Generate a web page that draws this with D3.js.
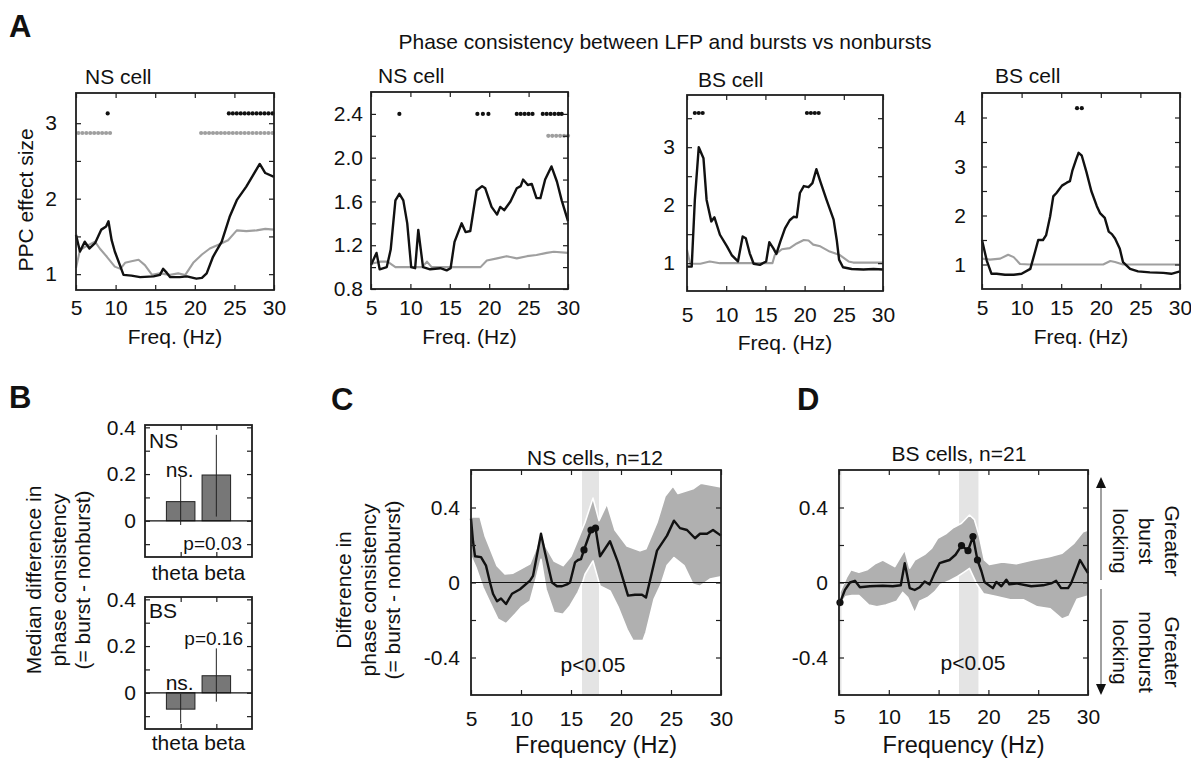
<!DOCTYPE html>
<html>
<head>
<meta charset="utf-8">
<script src="https://cdn.jsdelivr.net/npm/d3@7"></script>
<style>
  body { margin: 0; background: #fff; }
  svg { display: block; font-family: "Liberation Sans", Arial, Helvetica, sans-serif; }
</style>
</head>
<body>
<svg id="fig" width="1191" height="758"></svg>
<script>
// ---------------- Panel A: single-cell PPC effect size spectra ----------------
const freqTicks = [5, 10, 15, 20, 25, 30];

// A1 — NS cell
const a1Burst = [[5.0,1.52],[5.5,1.30],[6.1,1.43],[6.7,1.34],[7.4,1.41],[8.2,1.59],[8.8,1.63],[9.1,1.70],[9.5,1.45],[9.9,1.30],[11.0,0.99],[12.0,0.98],[13.1,0.96],[14.8,0.97],[15.6,0.99],[16.0,1.07],[16.45,1.02],[16.9,0.96],[18.1,0.96],[19.0,0.97],[20.2,0.94],[20.9,0.95],[21.5,1.01],[22.3,1.23],[23.4,1.43],[24.4,1.76],[25.3,1.98],[26.5,2.16],[27.4,2.32],[28.2,2.46],[28.9,2.34],[30.0,2.29]];
const a1Nonburst = [[5.0,1.08],[5.5,1.32],[6.3,1.37],[7.4,1.43],[8.0,1.34],[8.9,1.23],[9.9,1.10],[10.6,1.07],[11.2,1.15],[12.0,1.17],[12.9,1.19],[13.7,1.12],[14.6,0.99],[15.6,1.01],[16.9,0.99],[17.9,1.01],[18.8,0.99],[19.8,1.15],[20.9,1.26],[21.9,1.34],[23.2,1.40],[24.2,1.45],[25.3,1.58],[26.5,1.57],[27.8,1.58],[28.9,1.60],[30.0,1.59]];
const a1SigBurst = [9.0,24.3,24.8,25.3,25.8,26.3,26.8,27.3,27.8,28.3,28.8,29.3,29.8];
const a1SigNonburst = [5.3,5.8,6.3,6.8,7.3,7.8,8.3,8.8,9.3,20.8,21.3,21.8,22.3,22.8,23.3,23.8,24.3,24.8,25.3,25.8,26.3,26.8,27.3,27.8,28.3,28.8,29.3,29.8];

// A2 — NS cell
const a2Burst = [[5.0,1.02],[5.7,1.13],[6.1,0.98],[7.0,1.00],[7.5,1.16],[8.1,1.61],[8.6,1.67],[9.1,1.61],[9.6,1.40],[10.1,1.00],[10.6,0.99],[11.0,1.34],[11.6,1.00],[12.5,0.98],[13.8,0.99],[14.6,0.97],[15.1,0.99],[15.6,1.23],[16.5,1.40],[17.0,1.32],[17.6,1.33],[18.4,1.70],[19.1,1.74],[19.5,1.72],[20.3,1.55],[21.0,1.48],[21.4,1.55],[21.9,1.52],[22.7,1.60],[23.5,1.72],[24.0,1.74],[24.3,1.80],[24.9,1.75],[25.4,1.76],[26.0,1.63],[26.5,1.63],[27.1,1.80],[27.9,1.92],[28.6,1.78],[29.2,1.61],[30.0,1.42]];
const a2Nonburst = [[5.0,1.03],[6.2,1.05],[7.1,1.05],[8.1,1.00],[9.6,1.00],[11.5,1.00],[12.1,1.05],[12.7,1.00],[15.0,1.00],[18.9,1.00],[19.7,1.06],[21.0,1.08],[22.2,1.10],[23.5,1.08],[24.8,1.10],[26.0,1.11],[27.3,1.13],[28.2,1.14],[30.0,1.13]];
const a2SigBurst = [8.6,18.5,19.2,19.9,23.5,24.0,24.5,25.0,25.5,26.8,27.3,27.8,28.3,28.8,29.2];
const a2SigNonburst = [27.5,28.0,28.5,29.0,29.5,30.0];

// A3 — BS cell
const a3Burst = [[5.0,0.94],[5.6,0.94],[6.0,2.09],[6.5,3.00],[7.1,2.81],[7.5,2.09],[8.1,1.72],[8.5,1.79],[9.2,1.49],[10.1,1.29],[10.7,1.14],[11.5,1.03],[12.1,1.46],[12.5,1.43],[13.0,1.17],[13.5,0.99],[14.3,0.97],[15.1,1.03],[15.5,1.36],[16.0,1.26],[16.4,1.16],[16.9,1.37],[17.5,1.60],[18.1,1.74],[18.6,1.80],[19.0,1.79],[19.4,2.21],[19.9,2.33],[20.5,2.31],[21.0,2.38],[21.5,2.62],[22.0,2.41],[22.8,2.09],[23.7,1.75],[24.1,1.40],[24.4,1.06],[24.9,0.93],[26.0,0.90],[27.5,0.89],[28.8,0.90],[30.0,0.89]];
const a3Nonburst = [[5.0,1.23],[5.4,0.99],[6.7,0.99],[7.9,1.03],[9.2,1.00],[12.0,1.00],[15.9,1.00],[16.2,1.14],[17.1,1.24],[18.1,1.26],[19.0,1.34],[19.9,1.40],[20.5,1.39],[21.1,1.32],[22.0,1.29],[23.2,1.20],[24.5,1.14],[25.6,1.03],[26.2,1.01],[30.0,1.01]];
const a3SigBurst = [6.0,6.5,7.0,20.3,20.8,21.3,21.8];

// A4 — BS cell
const a4Burst = [[5.0,1.50],[5.6,1.08],[6.2,0.81],[6.85,0.81],[7.9,0.79],[9.0,0.79],[10.0,0.81],[11.1,0.91],[11.7,1.26],[12.1,1.50],[12.7,1.50],[13.1,1.60],[13.6,1.98],[14.0,2.39],[14.4,2.46],[15.1,2.61],[15.7,2.67],[16.1,2.70],[16.4,2.91],[16.9,3.15],[17.2,3.28],[17.6,3.22],[18.2,2.88],[18.8,2.50],[19.5,2.19],[19.9,2.05],[20.5,1.95],[21.0,1.67],[21.4,1.62],[21.8,1.53],[22.4,1.32],[22.8,1.05],[23.7,0.91],[24.7,0.86],[26.2,0.84],[27.9,0.83],[28.9,0.81],[30.0,0.86]];
const a4Nonburst = [[5.0,1.12],[6.0,1.10],[7.3,1.12],[8.3,1.20],[9.0,1.15],[9.8,1.01],[11.0,1.00],[20.3,1.00],[21.2,1.07],[21.8,1.05],[22.8,1.00],[30.0,1.00]];
const a4SigBurst = [17.0,17.6];

// ---------------- Panel B: median burst - nonburst difference ----------------
const bBands = ["theta", "beta"];
const bNSMedian = [0.082, 0.196];
const bNSLow    = [-0.018, 0.018];
const bNSHigh   = [0.189, 0.368];
const bBSMedian = [-0.070, 0.073];
const bBSLow    = [-0.130, -0.038];
const bBSHigh   = [-0.005, 0.190];

// ---------------- Panel C: NS cells, n=12 ----------------
const cMean = [[5.0,0.34],[5.2,0.22],[5.4,0.14],[6.0,0.135],[6.5,0.09],[6.9,0.0],[7.2,-0.06],[7.6,-0.10],[8.0,-0.085],[8.5,-0.115],[9.1,-0.06],[9.9,-0.036],[10.9,0.01],[11.2,0.035],[12.0,0.26],[12.4,0.16],[13.1,0.0],[13.6,-0.02],[14.1,-0.02],[14.6,-0.01],[14.9,0.0],[15.4,0.107],[15.7,0.12],[16.0,0.125],[16.3,0.174],[17.0,0.28],[17.45,0.29],[17.9,0.14],[18.9,0.22],[19.7,0.107],[20.7,-0.07],[21.4,-0.065],[22.1,-0.065],[22.5,-0.08],[23.6,0.17],[24.6,0.25],[25.3,0.33],[25.9,0.29],[26.6,0.28],[27.4,0.236],[27.9,0.26],[28.6,0.26],[29.2,0.28],[30.0,0.25]];
const cUpper = [[5.0,0.35],[5.9,0.35],[6.4,0.25],[7.6,0.09],[8.4,0.045],[9.2,0.05],[9.9,0.07],[10.9,0.10],[11.5,0.18],[12.0,0.275],[12.5,0.19],[13.3,0.115],[14.2,0.09],[15.0,0.14],[15.7,0.23],[16.4,0.32],[17.2,0.45],[17.8,0.33],[18.6,0.42],[19.4,0.28],[20.6,0.195],[21.9,0.17],[22.5,0.18],[23.6,0.32],[24.4,0.46],[25.2,0.515],[25.7,0.475],[27.2,0.50],[28.0,0.53],[30.0,0.51]];
const cLower = [[5.0,0.14],[5.5,0.08],[6.2,-0.027],[6.9,-0.107],[7.7,-0.196],[8.5,-0.22],[9.4,-0.17],[10.0,-0.133],[10.9,-0.10],[11.5,0.018],[12.0,0.124],[12.5,-0.036],[13.3,-0.16],[14.2,-0.17],[14.9,-0.125],[15.7,-0.053],[16.2,0.009],[16.4,0.044],[17.2,0.115],[17.9,-0.018],[18.9,-0.045],[19.7,-0.13],[20.6,-0.25],[21.2,-0.31],[22.2,-0.31],[22.5,-0.265],[23.3,-0.09],[24.0,-0.01],[24.6,0.09],[25.3,0.133],[26.3,0.09],[27.2,-0.01],[27.9,-0.02],[28.9,0.018],[30.0,0.03]];
const cSigPoints = [[16.3,0.174],[17.0,0.28],[17.45,0.29]];
const cSigRanges = [[16.1,17.8]];

// ---------------- Panel D: BS cells, n=21 ----------------
const dMean = [[5.1,-0.107],[5.6,-0.039],[6.1,0.0],[6.6,0.009],[7.1,-0.025],[8.1,-0.02],[9.4,-0.017],[10.4,-0.02],[11.2,-0.015],[11.6,0.103],[12.1,-0.03],[12.6,-0.04],[13.1,-0.025],[13.6,0.005],[14.1,-0.01],[14.6,0.05],[15.1,0.103],[15.6,0.112],[16.1,0.12],[16.7,0.148],[17.3,0.197],[17.95,0.17],[18.45,0.245],[18.9,0.12],[19.3,0.06],[19.6,0.003],[20.45,-0.03],[20.8,0.003],[21.3,-0.02],[21.8,0.015],[22.1,-0.01],[22.8,-0.005],[24.3,-0.02],[25.5,-0.015],[26.3,-0.005],[26.8,0.009],[27.3,-0.03],[28.0,-0.03],[28.3,-0.005],[28.7,0.05],[29.2,0.12],[29.7,0.075],[30.0,0.05]];
const dUpper = [[5.1,-0.05],[5.8,0.032],[6.2,0.068],[7.0,0.055],[7.8,0.068],[8.6,0.10],[9.4,0.12],[10.6,0.085],[11.6,0.174],[12.1,0.077],[12.6,0.12],[13.6,0.15],[14.3,0.183],[14.9,0.236],[15.8,0.263],[16.4,0.29],[17.3,0.316],[18.1,0.36],[18.6,0.335],[19.1,0.245],[19.6,0.12],[20.1,0.096],[21.4,0.11],[22.8,0.10],[24.4,0.12],[26.1,0.138],[27.4,0.156],[28.6,0.21],[29.5,0.27],[30.0,0.28]];
const dLower = [[5.1,-0.12],[5.7,-0.075],[6.3,-0.07],[7.0,-0.07],[8.0,-0.12],[8.8,-0.13],[9.7,-0.12],[10.8,-0.10],[11.4,-0.053],[11.9,-0.08],[12.6,-0.163],[13.1,-0.10],[13.9,-0.08],[14.6,-0.05],[15.2,-0.01],[16.1,0.01],[16.9,0.032],[17.6,0.057],[18.1,0.075],[18.8,-0.005],[19.5,-0.06],[20.8,-0.075],[22.2,-0.092],[23.5,-0.092],[24.9,-0.13],[26.2,-0.14],[27.4,-0.195],[28.1,-0.18],[28.9,-0.09],[30.0,-0.072]];
const dSigPoints = [[5.1,-0.107],[17.3,0.197],[17.95,0.17],[18.45,0.245],[18.9,0.12]];
const dSigRanges = [[5.0,5.25],[17.05,19.0]];

const diffTicks = [-0.4,-0.2,0,0.2,0.4];
const diffLabels = [-0.4,0,0.4];

// ---------------- drawing helpers ----------------
const svg = d3.select("#fig");
const INK = "#1e1e1e";
const FS = 21;
const TICK = 5;
const GRAY_LINE = "#9f9f9f";

function text(parent, str, x, y, opts = {}) {
  const t = parent.append("text")
    .attr("x", x).attr("y", y)
    .attr("font-size", opts.size || FS)
    .attr("fill", opts.fill || "#111")
    .attr("text-anchor", opts.anchor || "start")
    .text(str);
  if (opts.weight) t.attr("font-weight", opts.weight);
  return t;
}

// multi-line label rotated around (cx, cy); lines stacked with given spacing
function rotatedLabel(parent, lines, cx, cy, angle, spacing) {
  const g = parent.append("g").attr("transform", `translate(${cx},${cy}) rotate(${angle})`);
  const n = lines.length;
  lines.forEach((s, i) => {
    g.append("text")
      .attr("x", 0)
      .attr("y", (i - (n - 1) / 2) * spacing)
      .attr("text-anchor", "middle")
      .attr("dominant-baseline", "central")
      .attr("font-size", FS)
      .attr("fill", "#111")
      .text(s);
  });
}

function addAxes(g, x, y, o) {
  const [xa, xb] = x.range();
  const [yb, ya] = y.range();
  const blank = () => "";
  const yFmt = o.yFmt || (d => String(d));
  const yLab = d => o.yLabels.some(v => Math.abs(v - d) < 1e-9) ? yFmt(d) : "";

  g.append("g").attr("transform", `translate(0,${yb})`)
    .call(d3.axisBottom(x).tickValues(o.xTicks).tickSize(-TICK)
      .tickPadding(o.xPad || 10).tickFormat(o.xLabels === false ? blank : (d => String(d))));
  g.append("g").attr("transform", `translate(0,${ya})`)
    .call(d3.axisTop(x).tickValues(o.xTicks).tickSize(-TICK).tickFormat(blank));
  g.append("g").attr("transform", `translate(${xa},0)`)
    .call(d3.axisLeft(y).tickValues(o.yTicks).tickSize(-TICK)
      .tickPadding(o.yPad || 10).tickFormat(yLab));
  g.append("g").attr("transform", `translate(${xb},0)`)
    .call(d3.axisRight(y).tickValues(o.yTicks).tickSize(-TICK).tickFormat(blank));

  g.selectAll(".domain").remove();
  g.selectAll(".tick line").attr("stroke", INK).attr("stroke-width", 1.2);
  g.selectAll(".tick text")
    .attr("font-size", FS)
    .attr("font-family", "Liberation Sans, Arial, Helvetica, sans-serif")
    .attr("fill", "#111");

  g.append("rect")
    .attr("x", xa).attr("y", ya)
    .attr("width", xb - xa).attr("height", yb - ya)
    .attr("fill", "none").attr("stroke", INK).attr("stroke-width", 1.8);
}

// ---------------- Panel A ----------------
text(svg, "A", 9, 37, { size: 31, weight: "bold" });
text(svg, "Phase consistency between LFP and bursts vs nonbursts", 665, 49, { anchor: "middle" });
rotatedLabel(svg, ["PPC effect size"], 25, 200, -90, 0);

const aPanels = [
  { title: "NS cell", box: [76, 274, 93, 290], yDom: [0.79, 3.4],
    yTicks: [1, 1.5, 2, 2.5, 3], yLabels: [1, 2, 3], yPad: 19, xPad: 10, xlabY: 344,
    burst: a1Burst, nonburst: a1Nonburst, sigB: a1SigBurst, sigBY: 3.13, sigN: a1SigNonburst, sigNY: 2.87, titleXY: [85, 84] },
  { title: "NS cell", box: [371, 568, 92, 289], yDom: [0.8, 2.6],
    yTicks: [0.8, 1.0, 1.2, 1.4, 1.6, 1.8, 2.0, 2.2, 2.4], yLabels: [0.8, 1.2, 1.6, 2.0, 2.4], yFmt: d3.format(".1f"),
    yPad: 8, xPad: 11, xlabY: 344,
    burst: a2Burst, nonburst: a2Nonburst, sigB: a2SigBurst, sigBY: 2.4, sigN: a2SigNonburst, sigNY: 2.2, titleXY: [378, 83] },
  { title: "BS cell", box: [687, 883, 95, 291], yDom: [0.52, 3.9],
    yTicks: [1, 1.5, 2, 2.5, 3, 3.5], yLabels: [1, 2, 3], yPad: 12, xPad: 16, xlabY: 350,
    burst: a3Burst, nonburst: a3Nonburst, sigB: a3SigBurst, sigBY: 3.59, sigN: [], sigNY: 0, titleXY: [698, 87] },
  { title: "BS cell", box: [982, 1180, 93, 289], yDom: [0.5, 4.5],
    yTicks: [1, 1.5, 2, 2.5, 3, 3.5, 4], yLabels: [1, 2, 3, 4], yPad: 16, xPad: 11, xlabY: 344,
    burst: a4Burst, nonburst: a4Nonburst, sigB: a4SigBurst, sigBY: 4.19, sigN: [], sigNY: 0, titleXY: [995, 83] }
];

aPanels.forEach(p => {
  const [x0, x1, y0, y1] = p.box;
  const x = d3.scaleLinear().domain([5, 30]).range([x0, x1]);
  const y = d3.scaleLinear().domain(p.yDom).range([y1, y0]);
  const g = svg.append("g");
  const line = d3.line().x(d => x(d[0])).y(d => y(d[1]));

  g.append("path").datum(p.nonburst).attr("d", line)
    .attr("fill", "none").attr("stroke", GRAY_LINE).attr("stroke-width", 2.1).attr("stroke-linejoin", "round");
  g.append("path").datum(p.burst).attr("d", line)
    .attr("fill", "none").attr("stroke", "#111").attr("stroke-width", 2.4).attr("stroke-linejoin", "round");

  g.selectAll(".sigN").data(p.sigN).join("circle")
    .attr("cx", d => x(d)).attr("cy", y(p.sigNY)).attr("r", 2.1).attr("fill", GRAY_LINE);
  g.selectAll(".sigB").data(p.sigB).join("circle")
    .attr("cx", d => x(d)).attr("cy", y(p.sigBY)).attr("r", 2.1).attr("fill", "#111");

  addAxes(g, x, y, { xTicks: freqTicks, yTicks: p.yTicks, yLabels: p.yLabels, yFmt: p.yFmt, yPad: p.yPad, xPad: p.xPad });
  text(svg, p.title, p.titleXY[0], p.titleXY[1]);
  text(svg, "Freq. (Hz)", (x0 + x1) / 2, p.xlabY, { anchor: "middle" });
});

// ---------------- Panel B ----------------
text(svg, "B", 9, 408, { size: 31, weight: "bold" });
rotatedLabel(svg, ["Median difference in", "phase consistency", "(= burst - nonburst)"], 58, 580, -90, 24.5);

const bPanels = [
  { box: [145, 252, 425, 557], med: bNSMedian, lo: bNSLow, hi: bNSHigh, tag: "NS", tagY: 448,
    nsY: 477, pText: "p=0.03", pY: 550, pX: 242, labY: 580 },
  { box: [145, 252, 597, 729], med: bBSMedian, lo: bBSLow, hi: bBSHigh, tag: "BS", tagY: 618,
    nsY: 690, pText: "p=0.16", pY: 645, pX: 243, labY: 750 }
];

bPanels.forEach(p => {
  const [x0, x1, y0, y1] = p.box;
  const x = d3.scaleLinear().domain([0, 3]).range([x0, x1]);
  const y = d3.scaleLinear().domain([-0.155, 0.41]).range([y1, y0]);
  const g = svg.append("g");
  const halfW = 0.4;

  g.selectAll("rect.bar").data(bBands).join("rect").attr("class", "bar")
    .attr("x", (d, i) => x(i + 1 - halfW))
    .attr("width", x(1 + halfW) - x(1 - halfW))
    .attr("y", (d, i) => y(Math.max(0, p.med[i])))
    .attr("height", (d, i) => Math.abs(y(p.med[i]) - y(0)))
    .attr("fill", "#777").attr("stroke", "#222").attr("stroke-width", 1);

  g.append("line").attr("x1", x0).attr("x2", x1).attr("y1", y(0)).attr("y2", y(0))
    .attr("stroke", "#111").attr("stroke-width", 1.3);

  g.selectAll("line.err").data(bBands).join("line").attr("class", "err")
    .attr("x1", (d, i) => x(i + 1)).attr("x2", (d, i) => x(i + 1))
    .attr("y1", (d, i) => y(p.lo[i])).attr("y2", (d, i) => y(p.hi[i]))
    .attr("stroke", "#222").attr("stroke-width", 1);

  addAxes(g, x, y, { xTicks: [1, 2], xLabels: false, yTicks: [-0.1, 0, 0.1, 0.2, 0.3, 0.4], yLabels: [0, 0.2, 0.4], yPad: 9 });

  text(svg, p.tag, 149, p.tagY);
  text(svg, "ns.", x(1) - 1, p.nsY, { anchor: "middle" });
  text(svg, p.pText, p.pX, p.pY, { anchor: "end", size: 19 });
  text(svg, bBands.join(" "), (x0 + x1) / 2, p.labY, { anchor: "middle" });
});

// ---------------- Panels C and D ----------------
function diffPanel(o) {
  const [x0, x1, y0, y1] = o.box;
  const x = d3.scaleLinear().domain([5, 30]).range([x0, x1]);
  const y = d3.scaleLinear().domain([-0.6, 0.6]).range([y1, y0]);
  const g = svg.append("g");
  const line = d3.line().x(d => x(d[0])).y(d => y(d[1]));

  g.selectAll("rect.sig").data(o.sigRanges).join("rect").attr("class", "sig")
    .attr("x", d => x(d[0])).attr("width", d => x(d[1]) - x(d[0]))
    .attr("y", y0).attr("height", y1 - y0).attr("fill", "#e4e4e4");

  g.append("text").attr("x", o.pXY[0]).attr("y", o.pXY[1]).attr("text-anchor", "middle")
    .attr("font-size", FS).attr("fill", "#111").text("p<0.05");

  const band = o.upper.concat(o.lower.slice().reverse());
  g.append("path").datum(band).attr("d", d => line(d) + "Z")
    .attr("fill", "#b0b0b0").attr("stroke", "#fff").attr("stroke-width", 1.6).attr("stroke-linejoin", "round");

  g.append("line").attr("x1", x0).attr("x2", x1).attr("y1", y(0)).attr("y2", y(0))
    .attr("stroke", "#111").attr("stroke-width", 1.1);

  g.append("path").datum(o.mean).attr("d", line)
    .attr("fill", "none").attr("stroke", "#111").attr("stroke-width", 2.4).attr("stroke-linejoin", "round");

  g.selectAll("circle.sigpt").data(o.sigPoints).join("circle").attr("class", "sigpt")
    .attr("cx", d => x(d[0])).attr("cy", d => y(d[1])).attr("r", 3.6).attr("fill", "#111");

  addAxes(g, x, y, { xTicks: freqTicks, yTicks: diffTicks, yLabels: diffLabels, yPad: 11, xPad: o.xPad });

  text(svg, o.title, o.titleXY[0], o.titleXY[1], { anchor: "middle" });
  text(svg, "Frequency (Hz)", (x0 + x1) / 2, 753, { anchor: "middle", size: 23.5 });
  return { x, y };
}

text(svg, "C", 331, 410, { size: 31, weight: "bold" });
diffPanel({ box: [471, 721, 470, 695], mean: cMean, upper: cUpper, lower: cLower,
  sigPoints: cSigPoints, sigRanges: cSigRanges, title: "NS cells, n=12", titleXY: [595, 465],
  pXY: [593, 672], xPad: 16 });
rotatedLabel(svg, ["Difference in", "phase consistency", "(= burst - nonburst)"], 368, 590, -90, 24.5);

text(svg, "D", 797, 410, { size: 31, weight: "bold" });
diffPanel({ box: [839, 1088, 470, 695], mean: dMean, upper: dUpper, lower: dLower,
  sigPoints: dSigPoints, sigRanges: dSigRanges, title: "BS cells, n=21", titleXY: [959, 461],
  pXY: [973, 670], xPad: 14 });

// direction arrows to the right of panel D
const arrowX = 1101;
const arrows = svg.append("g");
arrows.append("line").attr("x1", arrowX).attr("x2", arrowX).attr("y1", 486).attr("y2", 580)
  .attr("stroke", "#8a8a8a").attr("stroke-width", 1.6);
arrows.append("line").attr("x1", arrowX).attr("x2", arrowX).attr("y1", 589).attr("y2", 686)
  .attr("stroke", "#8a8a8a").attr("stroke-width", 1.6);
arrows.append("path").attr("d", `M${arrowX},477 L${arrowX - 5},488 L${arrowX + 5},488 Z`).attr("fill", "#111");
arrows.append("path").attr("d", `M${arrowX},695 L${arrowX - 5},684 L${arrowX + 5},684 Z`).attr("fill", "#111");

rotatedLabel(svg, ["Greater", "burst", "locking"], 1146, 541, 90, 26);
rotatedLabel(svg, ["Greater", "nonburst", "locking"], 1146, 652, 90, 26);
</script>
</body>
</html>
